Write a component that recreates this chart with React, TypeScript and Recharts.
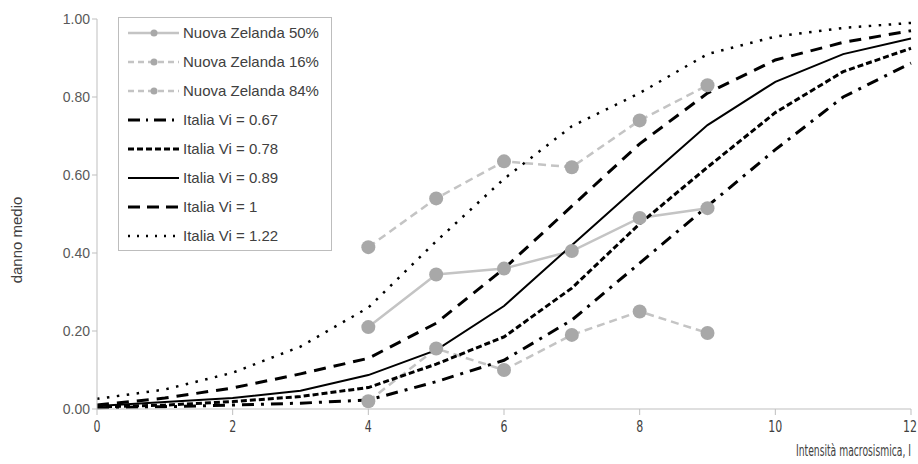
import { Line, LineChart, XAxis, YAxis } from "recharts";

const intensities = [0, 1, 2, 3, 4, 5, 6, 7, 8, 9, 10, 11, 12];

const italia067 = [0.003, 0.006, 0.01, 0.015, 0.023, 0.07, 0.125, 0.228, 0.374, 0.52, 0.665, 0.8, 0.887];
const italia078 = [0.005, 0.01, 0.019, 0.032, 0.055, 0.115, 0.185, 0.31, 0.475, 0.62, 0.76, 0.865, 0.925];
const italia089 = [0.008, 0.018, 0.028, 0.047, 0.087, 0.151, 0.264, 0.42, 0.575, 0.728, 0.839, 0.91, 0.95];
const italia100 = [0.01, 0.028, 0.054, 0.09, 0.13, 0.22, 0.36, 0.52, 0.68, 0.81, 0.895, 0.94, 0.97];
const italia122 = [0.026, 0.05, 0.093, 0.16, 0.26, 0.43, 0.59, 0.725, 0.81, 0.91, 0.955, 0.977, 0.99];

const nzIntensities = [4, 5, 6, 7, 8, 9];
const nz50 = [0.21, 0.345, 0.36, 0.405, 0.49, 0.515];
const nz16 = [0.02, 0.155, 0.1, 0.19, 0.25, 0.195];
const nz84 = [0.415, 0.54, 0.635, 0.62, 0.74, 0.83];

const xTicks = [0, 2, 4, 6, 8, 10, 12];
const yTicks = [0, 0.2, 0.4, 0.6, 0.8, 1];

const data = intensities.map((x, i) => {
  const j = nzIntensities.indexOf(x);
  return {
    x,
    i067: italia067[i],
    i078: italia078[i],
    i089: italia089[i],
    i100: italia100[i],
    i122: italia122[i],
    nz50: j >= 0 ? nz50[j] : undefined,
    nz16: j >= 0 ? nz16[j] : undefined,
    nz84: j >= 0 ? nz84[j] : undefined,
  };
});

const GREY_LINE = "#c4c4c4";
const GREY_DOT = "#a8a8a8";
const FONT = "'Liberation Sans', Arial, sans-serif";
const NARROW = "'DejaVu Sans', sans-serif";

type Entry = { label: string; color: string; width: number; dash?: string; dot?: boolean };

const legendEntries: Entry[] = [
  { label: "Nuova Zelanda 50%", color: GREY_LINE, width: 2.5, dot: true },
  { label: "Nuova Zelanda 16%", color: GREY_LINE, width: 2.5, dash: "6 4", dot: true },
  { label: "Nuova Zelanda 84%", color: GREY_LINE, width: 2.5, dash: "6 4", dot: true },
  { label: "Italia Vi = 0.67", color: "#000", width: 3, dash: "12 6 2 6" },
  { label: "Italia Vi = 0.78", color: "#000", width: 3, dash: "6 3" },
  { label: "Italia Vi = 0.89", color: "#000", width: 2 },
  { label: "Italia Vi = 1", color: "#000", width: 3, dash: "12 7" },
  { label: "Italia Vi = 1.22", color: "#000", width: 2.5, dash: "2 7" },
];

function LegendBox() {
  return (
    <div
      style={{
        position: "absolute",
        left: 118,
        top: 17,
        width: 214,
        height: 234,
        border: "1px solid #bdbdbd",
        background: "#fff",
        boxSizing: "border-box",
      }}
    >
      {legendEntries.map((e) => (
        <div key={e.label} style={{ display: "flex", alignItems: "center", height: 29 }}>
          <svg width={55} height={12} style={{ marginLeft: 9 }}>
            <line x1={0} y1={6} x2={51} y2={6} stroke={e.color} strokeWidth={e.width} strokeDasharray={e.dash} />
            {e.dot && <circle cx={26} cy={6} r={3.5} fill={GREY_DOT} />}
          </svg>
          <span style={{ fontFamily: FONT, fontSize: 15, color: "#404040", whiteSpace: "nowrap" }}>{e.label}</span>
        </div>
      ))}
    </div>
  );
}

const dot = { r: 7, fill: GREY_DOT, stroke: "none" };

// narrow, Calibri-like axis text: squeeze glyphs horizontally
const XTitle = (props: any) => {
  const vb = props.viewBox || {};
  return (
    <text
      x={vb.x + vb.width}
      y={vb.y + 47}
      textAnchor="end"
      fill="#404040"
      fontSize={16}
      fontFamily={NARROW}
      textLength={115}
      lengthAdjust="spacingAndGlyphs"
    >
      Intensità macrosismica, I
    </text>
  );
};

const YTitle = () => (
  <text
    x={22}
    y={240}
    transform="rotate(-90 22 240)"
    textAnchor="middle"
    fill="#404040"
    fontSize={15}
    fontFamily={FONT}
  >
    danno medio
  </text>
);

const XTick = (props: any) => {
  const { x, y, payload } = props;
  const w = String(payload.value).length * 7;
  return (
    <text x={x} y={y + 15} textAnchor="middle" fill="#404040" fontSize={16} fontFamily={NARROW} textLength={w} lengthAdjust="spacingAndGlyphs">
      {payload.value}
    </text>
  );
};

export default function App() {
  return (
    <div style={{ position: "absolute", left: 0, top: 0, width: 918, height: 464, background: "#fff" }}>
      <LineChart width={918} height={464} data={data} margin={{ top: 19, right: 7, bottom: 25, left: 0 }}>
        <XAxis
          dataKey="x"
          type="number"
          domain={[0, 12]}
          ticks={xTicks}
          height={30}
          stroke="#bfbfbf"
          tickSize={6}
          tick={<XTick />}
          label={<XTitle />}
        />
        <YAxis
          type="number"
          domain={[0, 1]}
          ticks={yTicks}
          width={97}
          stroke="#bfbfbf"
          tickSize={5}
          tickFormatter={(v: number) => v.toFixed(2)}
          tick={{ fill: "#595959", fontSize: 14, fontFamily: FONT }}
          label={<YTitle />}
        />
        <Line dataKey="nz50" type="linear" stroke={GREY_LINE} strokeWidth={2.5} dot={dot} activeDot={false} isAnimationActive={false} />
        <Line dataKey="nz16" type="linear" stroke={GREY_LINE} strokeWidth={2.5} strokeDasharray="8 5" dot={dot} activeDot={false} isAnimationActive={false} />
        <Line dataKey="nz84" type="linear" stroke={GREY_LINE} strokeWidth={2.5} strokeDasharray="8 5" dot={dot} activeDot={false} isAnimationActive={false} />
        <Line dataKey="i067" type="linear" stroke="#000" strokeWidth={3} strokeDasharray="12 7 3 7" dot={false} activeDot={false} isAnimationActive={false} />
        <Line dataKey="i078" type="linear" stroke="#000" strokeWidth={3} strokeDasharray="6 3" dot={false} activeDot={false} isAnimationActive={false} />
        <Line dataKey="i089" type="linear" stroke="#000" strokeWidth={2} dot={false} activeDot={false} isAnimationActive={false} />
        <Line dataKey="i100" type="linear" stroke="#000" strokeWidth={3} strokeDasharray="12 8" dot={false} activeDot={false} isAnimationActive={false} />
        <Line dataKey="i122" type="linear" stroke="#000" strokeWidth={2.5} strokeDasharray="2.5 7.5" dot={false} activeDot={false} isAnimationActive={false} />
      </LineChart>
      <LegendBox />
    </div>
  );
}
